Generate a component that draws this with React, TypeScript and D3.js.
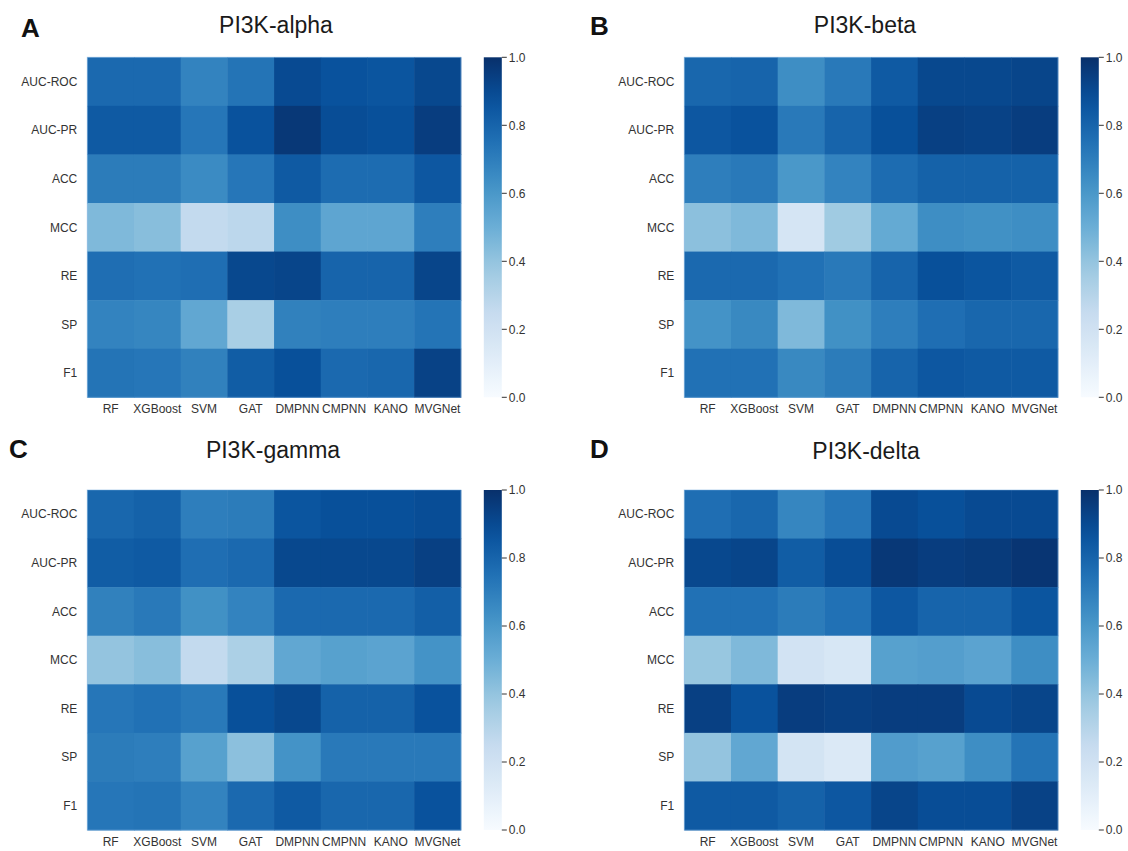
import React from "react";
import * as d3 from "d3";

const models = ["RF", "XGBoost", "SVM", "GAT", "DMPNN", "CMPNN", "KANO", "MVGNet"];
const metrics = ["AUC-ROC", "AUC-PR", "ACC", "MCC", "RE", "SP", "F1"];
const colorbarTicks = [0, 0.2, 0.4, 0.6, 0.8, 1.0];

// rows = metrics, cols = models
const alphaValues = [
  [0.78, 0.78, 0.68, 0.74, 0.9, 0.87, 0.86, 0.91],
  [0.84, 0.84, 0.73, 0.87, 0.97, 0.89, 0.88, 0.95],
  [0.71, 0.71, 0.65, 0.73, 0.84, 0.77, 0.77, 0.85],
  [0.45, 0.43, 0.26, 0.28, 0.64, 0.54, 0.54, 0.7],
  [0.76, 0.75, 0.76, 0.91, 0.92, 0.8, 0.8, 0.92],
  [0.68, 0.67, 0.53, 0.34, 0.69, 0.7, 0.7, 0.74],
  [0.74, 0.73, 0.69, 0.83, 0.88, 0.78, 0.79, 0.93],
];
const betaValues = [
  [0.79, 0.8, 0.64, 0.72, 0.84, 0.91, 0.91, 0.92],
  [0.85, 0.87, 0.72, 0.8, 0.88, 0.94, 0.93, 0.95],
  [0.7, 0.72, 0.6, 0.68, 0.77, 0.81, 0.81, 0.81],
  [0.42, 0.45, 0.17, 0.37, 0.52, 0.64, 0.63, 0.64],
  [0.78, 0.78, 0.75, 0.72, 0.8, 0.88, 0.86, 0.84],
  [0.62, 0.66, 0.45, 0.63, 0.7, 0.76, 0.79, 0.79],
  [0.75, 0.75, 0.66, 0.71, 0.8, 0.85, 0.84, 0.84],
];
const gammaValues = [
  [0.79, 0.81, 0.7, 0.71, 0.86, 0.88, 0.88, 0.89],
  [0.83, 0.84, 0.76, 0.78, 0.91, 0.91, 0.91, 0.94],
  [0.69, 0.72, 0.63, 0.68, 0.78, 0.78, 0.78, 0.82],
  [0.4, 0.43, 0.26, 0.33, 0.53, 0.56, 0.55, 0.62],
  [0.73, 0.75, 0.72, 0.88, 0.91, 0.81, 0.81, 0.87],
  [0.71, 0.7, 0.56, 0.42, 0.62, 0.72, 0.72, 0.72],
  [0.73, 0.74, 0.68, 0.78, 0.84, 0.79, 0.79, 0.87],
];
const deltaValues = [
  [0.76, 0.79, 0.67, 0.73, 0.9, 0.88, 0.9, 0.9],
  [0.91, 0.92, 0.83, 0.89, 0.97, 0.95, 0.96, 0.98],
  [0.75, 0.75, 0.71, 0.75, 0.85, 0.8, 0.8, 0.86],
  [0.39, 0.45, 0.19, 0.16, 0.56, 0.57, 0.55, 0.64],
  [0.94, 0.87, 0.95, 0.94, 0.95, 0.95, 0.9, 0.92],
  [0.4, 0.53, 0.18, 0.14, 0.58, 0.56, 0.64, 0.74],
  [0.84, 0.84, 0.81, 0.85, 0.92, 0.89, 0.89, 0.93],
];

const panelTitles = ["PI3K-alpha", "PI3K-beta", "PI3K-gamma", "PI3K-delta"];
const panelLetters = ["A", "B", "C", "D"];
const panelData = [alphaValues, betaValues, gammaValues, deltaValues];

// matplotlib "Blues" (linear segments of ColorBrewer 9-class)
const bluesStops = ["#f7fbff", "#deebf7", "#c6dbef", "#9ecae1", "#6baed6", "#4292c6", "#2171b5", "#08519c", "#08306b"];
const color = d3
  .scaleLinear<string>()
  .domain(bluesStops.map((_, i) => i / (bluesStops.length - 1)))
  .range(bluesStops)
  .interpolate(d3.interpolateRgb)
  .clamp(true);

const FONT = "'Liberation Sans', Arial, Helvetica, sans-serif";

const layout = [
  { x0: 87.3, y0: 57.3, letterX: 21, letterY: 37, titleX: 276, titleY: 33 },
  { x0: 684.3, y0: 57.3, letterX: 590, letterY: 35, titleX: 865, titleY: 33 },
  { x0: 87.3, y0: 490, letterX: 9, letterY: 458, titleX: 273, titleY: 458 },
  { x0: 684.3, y0: 490, letterX: 590, letterY: 458, titleX: 866, titleY: 459 },
];

const W = 373.5;
const H = 340;

function Panel({ idx }: { idx: number }) {
  const L = layout[idx];
  const data = panelData[idx];
  const x = d3.scaleBand<string>().domain(models).range([L.x0, L.x0 + W]);
  const y = d3.scaleBand<string>().domain(metrics).range([L.y0, L.y0 + H]);
  const cbX = L.x0 + W + 23;
  const cbW = 18;
  const cbScale = d3.scaleLinear().domain([0, 1]).range([L.y0 + H, L.y0]);
  const gradId = `grad${idx}`;
  return (
    <g>
      <defs>
        <linearGradient id={gradId} x1="0" y1="1" x2="0" y2="0">
          {d3.range(0, 1.0001, 0.05).map((t) => (
            <stop key={t} offset={`${t * 100}%`} stopColor={color(t)} />
          ))}
        </linearGradient>
      </defs>
      <text x={L.letterX} y={L.letterY} fontFamily={FONT} fontWeight="bold" fontSize={26} fill="#111">
        {panelLetters[idx]}
      </text>
      <text x={L.titleX} y={L.titleY} fontFamily={FONT} fontSize={23} fill="#1a1a1a" textAnchor="middle">
        {panelTitles[idx]}
      </text>
      {metrics.map((m, r) =>
        models.map((mo, c) => (
          <rect
            key={`${m}-${mo}`}
            x={x(mo)}
            y={y(m)}
            width={x.bandwidth() + 0.5}
            height={y.bandwidth() + 0.5}
            fill={color(data[r][c])}
          />
        ))
      )}
      <rect x={L.x0} y={L.y0} width={W} height={H} fill="none" stroke="#6fa8dc" strokeOpacity={0.5} strokeWidth={1} />
      {metrics.map((m) => (
        <text
          key={m}
          x={L.x0 - 10}
          y={(y(m) as number) + y.bandwidth() / 2}
          dy="0.35em"
          textAnchor="end"
          fontFamily={FONT}
          fontSize={12}
          fill="#333"
        >
          {m}
        </text>
      ))}
      {models.map((mo) => (
        <text
          key={mo}
          x={(x(mo) as number) + x.bandwidth() / 2}
          y={L.y0 + H + 16}
          textAnchor="middle"
          fontFamily={FONT}
          fontSize={12}
          fill="#333"
        >
          {mo}
        </text>
      ))}
      <rect x={cbX} y={L.y0} width={cbW} height={H} fill={`url(#${gradId})`} />
      {colorbarTicks.map((t) => (
        <g key={t}>
          <line x1={cbX + cbW} x2={cbX + cbW + 5} y1={cbScale(t)} y2={cbScale(t)} stroke="#333" strokeWidth={1} />
          <text x={cbX + cbW + 7} y={cbScale(t)} dy="0.35em" fontFamily={FONT} fontSize={12} fill="#333">
            {t.toFixed(1)}
          </text>
        </g>
      ))}
    </g>
  );
}

export default function App() {
  return (
    <svg
      width={1128}
      height={851}
      style={{ position: "absolute", left: 0, top: 0, background: "#fff" }}
    >
      <rect x={0} y={0} width={1128} height={851} fill="#fff" />
      {[0, 1, 2, 3].map((i) => (
        <Panel key={i} idx={i} />
      ))}
    </svg>
  );
}
